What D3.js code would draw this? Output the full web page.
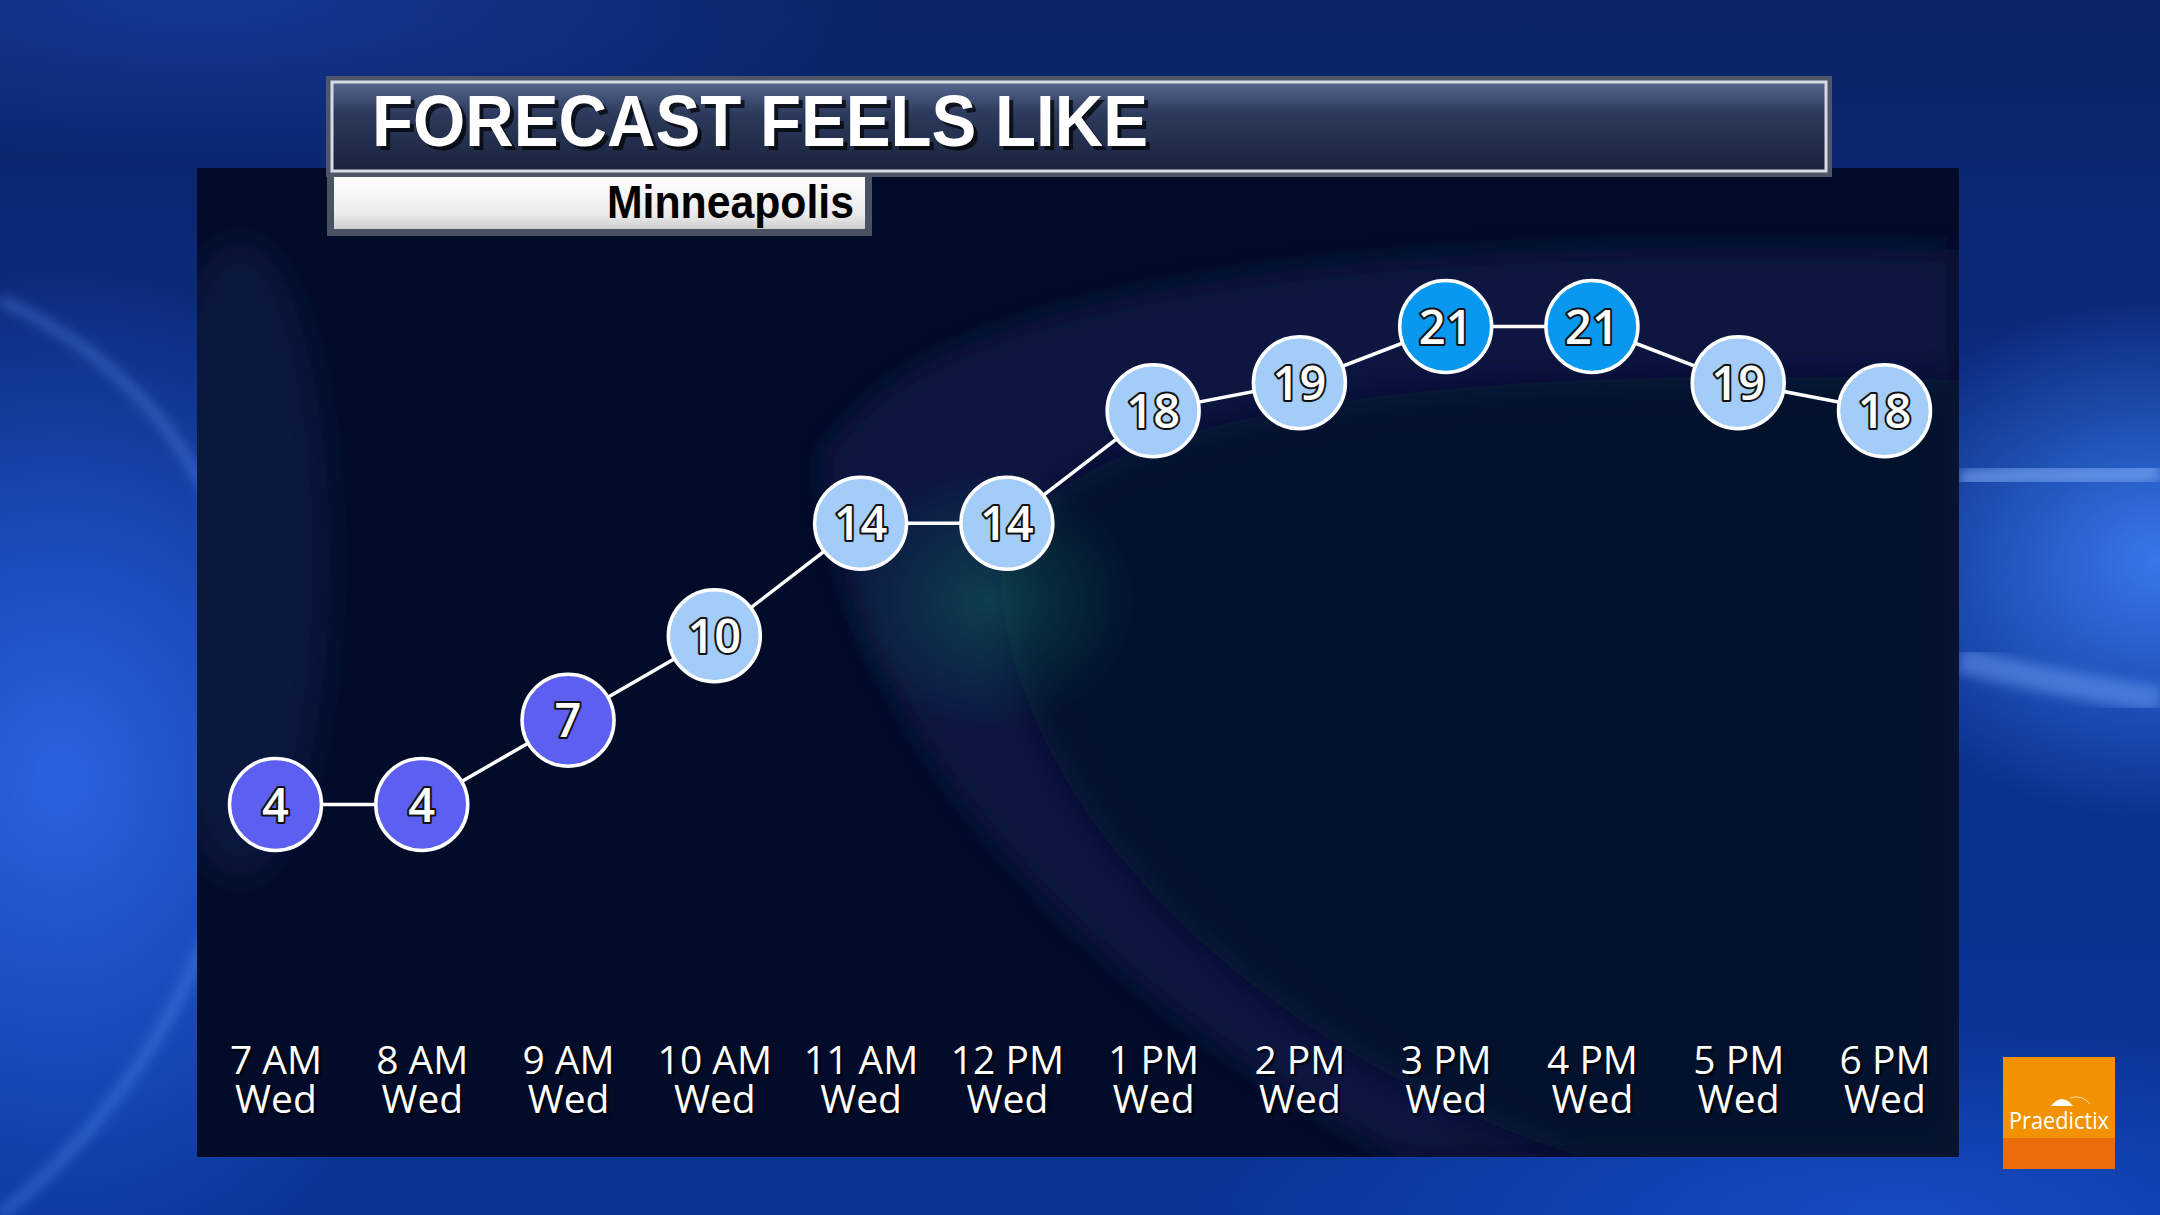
<!DOCTYPE html>
<html>
<head>
<meta charset="utf-8">
<script src="https://cdn.jsdelivr.net/npm/d3@7"></script>
<style>
  html, body { margin: 0; padding: 0; background: #0a2a80; overflow: hidden; }
  svg { display: block; }
</style>
</head>
<body>
<script>
// ---- data ----
const hours = ["7 AM", "8 AM", "9 AM", "10 AM", "11 AM", "12 PM", "1 PM", "2 PM", "3 PM", "4 PM", "5 PM", "6 PM"];
const days = ["Wed", "Wed", "Wed", "Wed", "Wed", "Wed", "Wed", "Wed", "Wed", "Wed", "Wed", "Wed"];
const feelsLike = [4, 4, 7, 10, 14, 14, 18, 19, 21, 21, 19, 18];
const titleText = "FORECAST FEELS LIKE";
const cityName = "Minneapolis";
const colorBreaks = [8, 20];
const colorSteps = ["#5d5ff0", "#a3cdf8", "#0898ef"];

const W = 2160, H = 1215;
const svg = d3.select("body").append("svg").attr("width", W).attr("height", H);
const defs = svg.append("defs");

// ---- background ----
const bgLin = defs.append("linearGradient").attr("id", "bgLin").attr("x1", 0).attr("y1", 0).attr("x2", 0).attr("y2", 1);
bgLin.append("stop").attr("offset", 0).attr("stop-color", "#0a2466");
bgLin.append("stop").attr("offset", 0.5).attr("stop-color", "#0b2f8c");
bgLin.append("stop").attr("offset", 1).attr("stop-color", "#0a3496");
svg.append("rect").attr("width", W).attr("height", H).attr("fill", "url(#bgLin)");

function radial(id, color, op) {
  const g = defs.append("radialGradient").attr("id", id);
  g.append("stop").attr("offset", 0).attr("stop-color", color).attr("stop-opacity", op);
  g.append("stop").attr("offset", 1).attr("stop-color", color).attr("stop-opacity", 0);
}
radial("glowL", "#2f6cf0", 0.85);
radial("glowR", "#3d80f5", 0.9);
radial("glowB", "#1f5ae0", 0.6);
radial("glowT", "#1d4cc0", 0.5);
svg.append("ellipse").attr("cx", 60).attr("cy", 780).attr("rx", 420).attr("ry", 520).attr("fill", "url(#glowL)");
svg.append("ellipse").attr("cx", 2160).attr("cy", 560).attr("rx", 330).attr("ry", 260).attr("fill", "url(#glowR)");
svg.append("ellipse").attr("cx", 1900).attr("cy", 1215).attr("rx", 700).attr("ry", 200).attr("fill", "url(#glowB)");
svg.append("ellipse").attr("cx", 200).attr("cy", 0).attr("rx", 700).attr("ry", 160).attr("fill", "url(#glowT)");

const blur = defs.append("filter").attr("id", "blur").attr("x", "-20%").attr("y", "-20%").attr("width", "140%").attr("height", "140%");
blur.append("feGaussianBlur").attr("stdDeviation", 6);
svg.append("path").attr("d", "M0,300 C180,380 290,560 240,820 C210,980 120,1120 0,1215")
  .attr("fill", "none").attr("stroke", "#6aa0ff").attr("stroke-opacity", 0.35).attr("stroke-width", 10).attr("filter", "url(#blur)");
svg.append("path").attr("d", "M1960,480 C2040,470 2110,480 2160,470")
  .attr("fill", "none").attr("stroke", "#8ab8ff").attr("stroke-opacity", 0.55).attr("stroke-width", 22).attr("filter", "url(#blur)");
svg.append("path").attr("d", "M1960,660 C2040,680 2100,690 2160,700")
  .attr("fill", "none").attr("stroke", "#7aa8ff").attr("stroke-opacity", 0.45).attr("stroke-width", 26).attr("filter", "url(#blur)");

// ---- panel ----
const P = { x: 197, y: 168, w: 1762, h: 989 };
defs.append("clipPath").attr("id", "panelClip").append("rect")
  .attr("x", P.x).attr("y", P.y).attr("width", P.w).attr("height", P.h);
svg.append("rect").attr("x", P.x).attr("y", P.y).attr("width", P.w).attr("height", P.h).attr("fill", "#020b28");
const pg = svg.append("g").attr("clip-path", "url(#panelClip)");
const blur2 = defs.append("filter").attr("id", "blur2").attr("x", "-30%").attr("y", "-30%").attr("width", "160%").attr("height", "160%");
blur2.append("feGaussianBlur").attr("stdDeviation", 18);
pg.append("path").attr("d", "M820,460 C900,300 1300,230 1959,250 L1959,1157 L1400,1157 C1100,1000 850,750 820,460 Z")
  .attr("fill", "#0c2256").attr("fill-opacity", 0.55).attr("filter", "url(#blur2)");
pg.append("path").attr("d", "M1000,560 C1050,420 1400,360 1959,380 L1959,1157 L1580,1157 C1250,1050 1000,800 1000,560 Z")
  .attr("fill", "#020b28").attr("fill-opacity", 0.8).attr("filter", "url(#blur2)");
radial("teal", "#0f5a5a", 0.6);
pg.append("ellipse").attr("cx", 990).attr("cy", 600).attr("rx", 150).attr("ry", 130).attr("fill", "url(#teal)");
pg.append("ellipse").attr("cx", 240).attr("cy", 560).attr("rx", 90).attr("ry", 320).attr("fill", "#1a3a80").attr("fill-opacity", 0.25).attr("filter", "url(#blur2)");

// ---- scales ----
const x = d3.scalePoint().domain(hours).range([275.5, 1884.5]);
const y = d3.scaleLinear().domain([4, 21]).range([804.5, 326.5]);
const color = d3.scaleThreshold().domain(colorBreaks).range(colorSteps);

const pts = hours.map((h, i) => ({ h, v: feelsLike[i] }));

// ---- line ----
svg.append("path").datum(pts)
  .attr("d", d3.line().x(d => x(d.h)).y(d => y(d.v)))
  .attr("fill", "none").attr("stroke", "#ffffff").attr("stroke-width", 3.5);

// ---- circles ----
const node = svg.append("g").selectAll("g").data(pts).join("g")
  .attr("transform", d => `translate(${x(d.h)},${y(d.v)})`);
node.append("circle").attr("r", 46)
  .attr("fill", d => color(d.v)).attr("stroke", "#ffffff").attr("stroke-width", 3.5);
node.append("text").text(d => d.v)
  .attr("text-anchor", "middle").attr("y", 17)
  .attr("font-family", "'Open Sans', sans-serif").attr("font-weight", 600).attr("font-size", 47)
  .attr("fill", "#ffffff").attr("stroke", "#111111").attr("stroke-width", 4)
  .attr("paint-order", "stroke").attr("stroke-linejoin", "round");

// ---- x axis ----
const axis = svg.append("g").attr("transform", "translate(0,1074)")
  .call(d3.axisBottom(x).tickSize(0).tickPadding(0).tickFormat(""));
axis.select(".domain").remove();
const tickText = axis.selectAll(".tick text")
  .attr("y", 0).attr("dy", 0).text(null)
  .attr("font-family", "'Open Sans', sans-serif").attr("font-size", 39)
  .attr("fill", "#ffffff").attr("text-anchor", "middle")
  .style("text-shadow", "2px 2px 2px rgba(0,0,0,0.8)");
tickText.each(function (d, i) {
  const t = d3.select(this);
  t.append("tspan").attr("x", 0).attr("y", 0).text(d);
  t.append("tspan").attr("x", 0).attr("y", 39).text(days[i]);
});

// ---- subtitle box ----
const subG = defs.append("linearGradient").attr("id", "subG").attr("x1", 0).attr("y1", 0).attr("x2", 0).attr("y2", 1);
subG.append("stop").attr("offset", 0).attr("stop-color", "#ffffff");
subG.append("stop").attr("offset", 0.7).attr("stop-color", "#ececec");
subG.append("stop").attr("offset", 1).attr("stop-color", "#cfcfcf");
svg.append("rect").attr("x", 327).attr("y", 170).attr("width", 545).attr("height", 66).attr("fill", "#4a5162");
svg.append("rect").attr("x", 334).attr("y", 176).attr("width", 531).attr("height", 53).attr("fill", "url(#subG)");
svg.append("text").text(cityName)
  .attr("x", 854).attr("y", 218).attr("text-anchor", "end")
  .attr("font-family", "'Liberation Sans', Arial, sans-serif").attr("font-weight", 700).attr("font-size", 46)
  .attr("textLength", 247).attr("lengthAdjust", "spacingAndGlyphs")
  .attr("fill", "#000000");

// ---- title bar ----
const tG = defs.append("linearGradient").attr("id", "tG").attr("x1", 0).attr("y1", 0).attr("x2", 0).attr("y2", 1);
tG.append("stop").attr("offset", 0).attr("stop-color", "#56678e");
tG.append("stop").attr("offset", 0.35).attr("stop-color", "#2c3a5c");
tG.append("stop").attr("offset", 1).attr("stop-color", "#19223c");
svg.append("rect").attr("x", 326).attr("y", 76).attr("width", 1506).attr("height", 101).attr("fill", "#4f5668");
svg.append("rect").attr("x", 332).attr("y", 82).attr("width", 1494).attr("height", 89)
  .attr("fill", "url(#tG)").attr("stroke", "#d6dce6").attr("stroke-width", 3);
svg.append("text").text(titleText)
  .attr("x", 376).attr("y", 150)
  .attr("font-family", "'Liberation Sans', Arial, sans-serif").attr("font-weight", 700).attr("font-size", 72)
  .attr("textLength", 776).attr("lengthAdjust", "spacingAndGlyphs")
  .attr("fill", "#000000").attr("fill-opacity", 0.7);
svg.append("text").text(titleText)
  .attr("x", 372).attr("y", 146)
  .attr("font-family", "'Liberation Sans', Arial, sans-serif").attr("font-weight", 700).attr("font-size", 72)
  .attr("textLength", 776).attr("lengthAdjust", "spacingAndGlyphs")
  .attr("fill", "#ffffff");

// ---- logo ----
const logo = svg.append("g");
logo.append("rect").attr("x", 2003).attr("y", 1057).attr("width", 112).attr("height", 112).attr("fill", "#f39200");
logo.append("rect").attr("x", 2003).attr("y", 1138).attr("width", 112).attr("height", 31).attr("fill", "#ec6b0b");
logo.append("path").attr("d", "M2051,1106 Q2062,1092 2073,1106 Z").attr("fill", "#ffffff");
logo.append("path").attr("d", "M2070,1098 Q2082,1094 2090,1104").attr("fill", "none").attr("stroke", "#ffffff").attr("stroke-width", 1).attr("stroke-opacity", 0.7);
logo.append("text").text("Praedictix")
  .attr("x", 2059).attr("y", 1129).attr("text-anchor", "middle")
  .attr("font-family", "'Open Sans', sans-serif").attr("font-size", 24)
  .attr("textLength", 100).attr("lengthAdjust", "spacingAndGlyphs")
  .attr("fill", "#ffffff");
</script>
</body>
</html>
